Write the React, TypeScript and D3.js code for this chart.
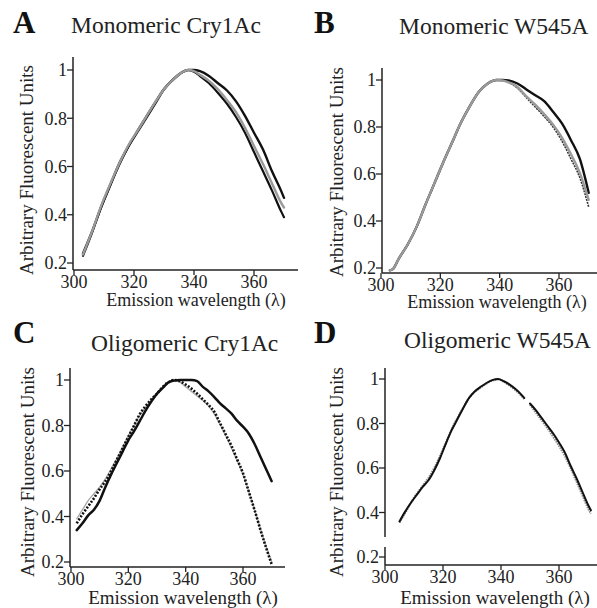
import React from "react";
import * as d3 from "d3";

const xTicks = [300, 320, 340, 360];
const yTicks = [0.2, 0.4, 0.6, 0.8, 1];

// Panel A: Monomeric Cry1Ac
const wlA = [303, 306, 309, 312, 315, 318, 321, 324, 327, 330, 333, 336, 338, 340, 342, 345, 348, 351, 354, 357, 360, 363, 366, 369, 370];
const aBlack1 = [0.24, 0.33, 0.43, 0.52, 0.61, 0.68, 0.74, 0.8, 0.86, 0.92, 0.96, 0.99, 1.0, 1.0, 0.995, 0.975, 0.945, 0.915, 0.87, 0.81, 0.74, 0.67, 0.58, 0.5, 0.47];
const aBlack2 = [0.23, 0.325, 0.43, 0.52, 0.605, 0.68, 0.745, 0.805, 0.865, 0.92, 0.96, 0.99, 1.0, 0.993, 0.975, 0.945, 0.905, 0.86, 0.805, 0.74, 0.66, 0.58, 0.5, 0.415, 0.39];
const aGray = [0.235, 0.33, 0.435, 0.525, 0.61, 0.685, 0.745, 0.805, 0.865, 0.92, 0.96, 0.99, 1.0, 0.995, 0.98, 0.955, 0.92, 0.875, 0.825, 0.76, 0.685, 0.61, 0.53, 0.45, 0.43];

// Panel B: Monomeric W545A
const wlB = [303, 304, 306, 309, 312, 315, 318, 321, 324, 327, 330, 333, 336, 339, 341, 343, 346, 349, 352, 355, 358, 361, 364, 367, 370];
const bBlack = [0.19, 0.195, 0.24, 0.3, 0.375, 0.47, 0.56, 0.65, 0.735, 0.82, 0.89, 0.95, 0.985, 1.0, 1.0, 0.998, 0.985, 0.96, 0.935, 0.91, 0.865, 0.815, 0.745, 0.665, 0.52];
const bDark = [0.19, 0.195, 0.24, 0.3, 0.375, 0.47, 0.56, 0.65, 0.735, 0.82, 0.89, 0.95, 0.985, 1.0, 0.998, 0.99, 0.965, 0.925, 0.885, 0.845, 0.8, 0.74, 0.665, 0.585, 0.46];
const bGray = [0.19, 0.195, 0.24, 0.3, 0.375, 0.47, 0.56, 0.65, 0.735, 0.82, 0.89, 0.95, 0.985, 1.0, 0.998, 0.99, 0.97, 0.93, 0.895, 0.855, 0.81, 0.755, 0.685, 0.605, 0.49];

// Panel C: Oligomeric Cry1Ac
const wlC = [302, 304, 306, 308, 310, 312, 314, 316, 318, 320, 322, 324, 326, 328, 330, 332, 334, 336, 338, 340, 342, 344, 346, 348, 350, 352, 354, 356, 358, 360, 362, 364, 366, 368, 370];
const cSolid = [0.34, 0.37, 0.405, 0.43, 0.47, 0.53, 0.585, 0.635, 0.685, 0.735, 0.775, 0.82, 0.865, 0.905, 0.94, 0.965, 0.99, 0.998, 1.0, 1.0, 1.0, 0.995, 0.97, 0.95, 0.925, 0.897, 0.875, 0.852, 0.82, 0.795, 0.765, 0.72, 0.665, 0.61, 0.555];
const cDotted = [0.37, 0.41, 0.445, 0.48, 0.52, 0.555, 0.6, 0.65, 0.7, 0.75, 0.8, 0.85, 0.885, 0.915, 0.94, 0.97, 0.99, 1.0, 0.995, 0.98, 0.962, 0.94, 0.915, 0.89, 0.86, 0.81, 0.76, 0.71, 0.65, 0.59, 0.51, 0.43, 0.345, 0.265, 0.19];
const cGray = [0.39, 0.43, 0.47, 0.5, 0.53, 0.565, 0.61, 0.655, 0.705, 0.755, 0.8, 0.845, 0.88, 0.91, 0.935, 0.965, 0.985, 0.997, 0.99, 0.97, 0.95, 0.93, 0.91, 0.885, 0.85, 0.805, 0.755, 0.7, 0.645, 0.585, 0.51, 0.43, 0.35, 0.27, 0.2];

// Panel D: Oligomeric W545A
const wlD = [305, 307, 309, 311, 313, 315, 317, 319, 321, 323, 325, 327, 329, 331, 333, 335, 337, 339, 341, 343, 345, 347, 348, 349, 350, 352, 354, 356, 358, 360, 362, 364, 366, 368, 370, 371];
const dBlack = [0.36, 0.405, 0.445, 0.48, 0.515, 0.545, 0.59, 0.645, 0.71, 0.77, 0.82, 0.87, 0.915, 0.945, 0.965, 0.982, 0.995, 1.0, 0.99, 0.975, 0.955, 0.93, 0.915, null, 0.89, 0.86, 0.825, 0.79, 0.755, 0.715, 0.67, 0.61, 0.555, 0.495, 0.435, 0.41];
const dGray = [0.355, 0.4, 0.445, 0.485, 0.52, 0.555, 0.6, 0.655, 0.715, 0.775, 0.825, 0.872, 0.915, 0.943, 0.962, 0.98, 0.993, 0.998, 0.988, 0.97, 0.95, 0.925, 0.91, null, 0.885, 0.85, 0.815, 0.78, 0.74, 0.7, 0.655, 0.6, 0.54, 0.48, 0.42, 0.395];

const FONT = "Liberation Serif";
const AXIS = "#222";

type Series = { wl: number[]; v: (number | null)[]; color: string; width: number; dash?: string };

type PanelProps = {
  letter: string;
  title: string;
  letterX: number;
  letterY: number;
  titleX: number;
  titleY: number;
  x300: number;
  x360: number;
  y1: number;
  y02: number;
  xAxisY: number;
  yAxisX: number;
  yAxisTop: number;
  xRight: number;
  yLabelX: number;
  yLabelCy: number;
  xLabelCx: number;
  xLabelY: number;
  xLabelSize: number;
  yBreak?: [number, number];
  series: Series[];
};

function Panel(p: PanelProps) {
  const x = d3.scaleLinear().domain([300, 360]).range([p.x300, p.x360]);
  const y = d3.scaleLinear().domain([0.2, 1]).range([p.y02, p.y1]);
  const mk = (s: Series) =>
    d3
      .line<number>()
      .defined((_, i) => s.v[i] !== null)
      .x((_, i) => x(s.wl[i]))
      .y((_, i) => y(s.v[i] as number))
      .curve(d3.curveMonotoneX)(s.wl.map((_, i) => i)) || "";
  return (
    <g>
      <text x={p.letterX} y={p.letterY} fontFamily={FONT} fontWeight="bold" fontSize={31} fill="#111">
        {p.letter}
      </text>
      <text x={p.titleX} y={p.titleY} fontFamily={FONT} fontSize={23.5} fill="#222">
        {p.title}
      </text>
      {p.yBreak ? (
        <g stroke={AXIS} strokeWidth={1.5}>
          <line x1={p.yAxisX} x2={p.yAxisX} y1={p.yAxisTop} y2={p.yBreak[0]} />
          <line x1={p.yAxisX} x2={p.yAxisX} y1={p.yBreak[1]} y2={p.xAxisY} />
        </g>
      ) : (
        <line x1={p.yAxisX} x2={p.yAxisX} y1={p.yAxisTop} y2={p.xAxisY} stroke={AXIS} strokeWidth={1.5} />
      )}
      {yTicks.map((t) => (
        <g key={"y" + t}>
          <line x1={p.yAxisX - 6} x2={p.yAxisX} y1={y(t)} y2={y(t)} stroke={AXIS} strokeWidth={1.3} />
          <text x={p.yAxisX - 6} y={y(t)} dy="0.35em" textAnchor="end" fontFamily={FONT} fontSize={18} fill="#222">
            {d3.format("~g")(t)}
          </text>
        </g>
      ))}
      <line x1={p.yAxisX} x2={p.xRight} y1={p.xAxisY} y2={p.xAxisY} stroke={AXIS} strokeWidth={1.5} />
      {xTicks.map((t) => (
        <g key={"x" + t}>
          <line x1={x(t)} x2={x(t)} y1={p.xAxisY} y2={p.xAxisY + 5} stroke={AXIS} strokeWidth={1.3} />
          <text x={x(t)} y={p.xAxisY + 18} textAnchor="middle" fontFamily={FONT} fontSize={18} fill="#222">
            {t}
          </text>
        </g>
      ))}
      <text
        transform={`translate(${p.yLabelX},${p.yLabelCy}) rotate(-90)`}
        textAnchor="middle"
        fontFamily={FONT}
        fontSize={19}
        fill="#222"
      >
        Arbitrary Fluorescent Units
      </text>
      <text x={p.xLabelCx} y={p.xLabelY} textAnchor="middle" fontFamily={FONT} fontSize={p.xLabelSize} fill="#222">
        Emission wavelength (λ)
      </text>
      {p.series.map((s, i) => (
        <path
          key={i}
          d={mk(s)}
          fill="none"
          stroke={s.color}
          strokeWidth={s.width}
          strokeDasharray={s.dash}
          strokeLinejoin="round"
          strokeLinecap={s.dash ? "butt" : "round"}
        />
      ))}
    </g>
  );
}

export default function App() {
  return (
    <svg width={597} height={608} style={{ position: "absolute", left: 0, top: 0, background: "#fff" }}>
      <rect width={597} height={608} fill="#fff" />
      <Panel
        letter="A"
        title="Monomeric Cry1Ac"
        letterX={13}
        letterY={33}
        titleX={71}
        titleY={33}
        x300={74}
        x360={254}
        y1={70}
        y02={263}
        xAxisY={270}
        yAxisX={73}
        yAxisTop={57}
        xRight={298}
        yLabelX={33}
        yLabelCy={170}
        xLabelCx={196}
        xLabelY={306}
        xLabelSize={18}
        series={[
          { wl: wlA, v: aBlack2, color: "#111", width: 2.2 },
          { wl: wlA, v: aBlack1, color: "#111", width: 2.4 },
          { wl: wlA, v: aGray, color: "#9a9a9a", width: 2.4 },
        ]}
      />
      <Panel
        letter="B"
        title="Monomeric W545A"
        letterX={314}
        letterY={33}
        titleX={399}
        titleY={34}
        x300={381}
        x360={559}
        y1={80}
        y02={268}
        xAxisY={273}
        yAxisX={382}
        yAxisTop={68}
        xRight={597}
        yLabelX={343}
        yLabelCy={172}
        xLabelCx={497}
        xLabelY={308}
        xLabelSize={18}
        series={[
          { wl: wlB, v: bDark, color: "#333", width: 1.6, dash: "2,1" },
          { wl: wlB, v: bBlack, color: "#111", width: 2.4 },
          { wl: wlB, v: bGray, color: "#9a9a9a", width: 2.4 },
        ]}
      />
      <Panel
        letter="C"
        title="Oligomeric Cry1Ac"
        letterX={13}
        letterY={343}
        titleX={91}
        titleY={351}
        x300={71}
        x360={243}
        y1={380}
        y02={562}
        xAxisY={567}
        yAxisX={70}
        yAxisTop={368}
        xRight={285}
        yLabelX={34}
        yLabelCy={472}
        xLabelCx={183}
        xLabelY={604}
        xLabelSize={19}
        series={[
          { wl: wlC, v: cGray, color: "#a8a8a8", width: 1.3 },
          { wl: wlC, v: cSolid, color: "#111", width: 2.5 },
          { wl: wlC, v: cDotted, color: "#111", width: 2.6, dash: "2,1.6" },
        ]}
      />
      <Panel
        letter="D"
        title="Oligomeric W545A"
        letterX={314}
        letterY={343}
        titleX={404}
        titleY={348}
        x300={385}
        x360={559}
        y1={379}
        y02={557}
        xAxisY={565}
        yAxisX={385}
        yAxisTop={368}
        xRight={597}
        yLabelX={343}
        yLabelCy={472}
        xLabelCx={495}
        xLabelY={604}
        xLabelSize={19}
        yBreak={[537, 547]}
        series={[
          { wl: wlD, v: dGray, color: "#8a8a8a", width: 2.2, dash: "1.5,1" },
          { wl: wlD, v: dBlack, color: "#111", width: 2.0 },
        ]}
      />
    </svg>
  );
}
